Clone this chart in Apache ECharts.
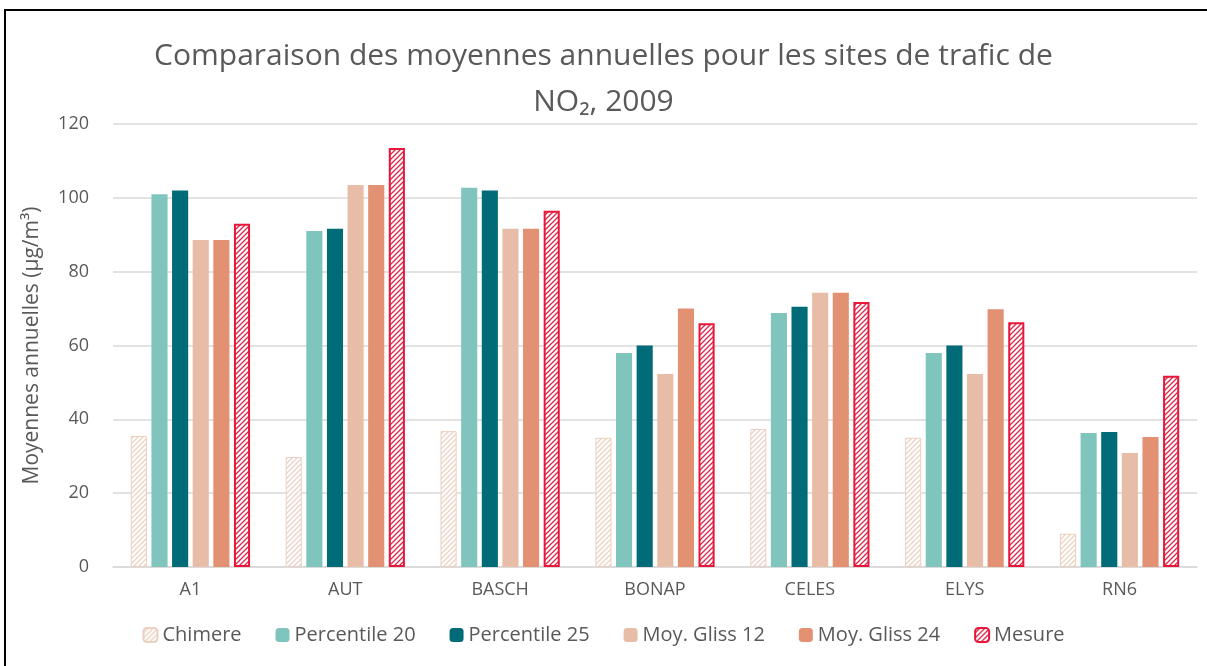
<!DOCTYPE html>
<html>
<head>
<meta charset="utf-8">
<script src="https://cdn.jsdelivr.net/npm/echarts@6/dist/echarts.min.js"></script>
<style>
  html, body { margin: 0; padding: 0; background: #fff; }
  #frame { position: absolute; left: 4px; top: 9px; width: 1210px; height: 670px; border: 2px solid #000; box-sizing: border-box; }
  #main { position: absolute; left: 0; top: 0; width: 1207px; height: 666px; }
</style>
</head>
<body>
<div id="frame"></div>
<div id="main"></div>
<script type="text/javascript">
// categories and values
var sites = ['A1', 'AUT', 'BASCH', 'BONAP', 'CELES', 'ELYS', 'RN6'];
var chimere      = [35.5, 29.8, 36.8, 35.0, 37.4, 35.0, 9.0];
var percentile20 = [101.0, 91.0, 102.7, 58.0, 68.8, 58.0, 36.3];
var percentile25 = [102.0, 91.6, 102.0, 60.0, 70.5, 60.0, 36.6];
var moyGliss12   = [88.6, 103.5, 91.6, 52.3, 74.3, 52.3, 30.9];
var moyGliss24   = [88.6, 103.5, 91.6, 70.0, 74.3, 69.8, 35.2];
var mesure       = [93.0, 113.5, 96.5, 66.0, 71.8, 66.3, 51.8];

// hachures diagonales
function stripes(fg, lw) {
  var c = document.createElement('canvas');
  c.width = 5; c.height = 5;
  var ctx = c.getContext('2d');
  ctx.fillStyle = '#fff';
  ctx.fillRect(0, 0, 5, 5);
  ctx.strokeStyle = fg;
  ctx.lineWidth = lw;
  ctx.beginPath();
  ctx.moveTo(0, 5); ctx.lineTo(5, 0);
  ctx.moveTo(-1, 1); ctx.lineTo(1, -1);
  ctx.moveTo(4, 6); ctx.lineTo(6, 4);
  ctx.stroke();
  return { image: c, repeat: 'repeat' };
}

var chart = echarts.init(document.getElementById('main'));
var txt = '#595959';
var font = 'Open Sans';

function bar(name, data, style) {
  return { name: name, type: 'bar', data: data, itemStyle: style,
           barGap: '28%', barCategoryGap: '23%' };
}

var option = {
  animation: false,
  textStyle: { fontFamily: font },
  title: {
    text: 'Comparaison des moyennes annuelles pour les sites de trafic de\nNO₂, 2009',
    left: 'center', top: 28,
    textStyle: { fontFamily: font, fontSize: 30, fontWeight: 'normal', color: txt, lineHeight: 46 }
  },
  legend: {
    bottom: 16, left: 'center',
    itemWidth: 14, itemHeight: 14, itemGap: 34,
    textStyle: { fontFamily: font, fontSize: 20, color: txt },
    data: ['Chimere', 'Percentile 20', 'Percentile 25', 'Moy. Gliss 12', 'Moy. Gliss 24', 'Mesure']
  },
  grid: { left: 113, right: 10, top: 124, bottom: 99 },
  xAxis: {
    type: 'category', data: sites,
    axisLine: { lineStyle: { color: '#D9D9D9', width: 1.5 } },
    axisTick: { show: false },
    axisLabel: { color: txt, fontSize: 18, margin: 14 }
  },
  yAxis: {
    type: 'value', min: 0, max: 120, interval: 20,
    name: 'Moyennes annuelles (µg/m³)',
    nameLocation: 'middle', nameGap: 70,
    nameTextStyle: { color: txt, fontSize: 21, fontFamily: font },
    axisLine: { show: false }, axisTick: { show: false },
    axisLabel: { color: txt, fontSize: 18, margin: 24 },
    splitLine: { lineStyle: { color: '#D9D9D9', width: 1.5 } }
  },
  series: [
    bar('Chimere', chimere, { color: stripes('#EDD3C3', 1.4), borderColor: '#EAD0C0', borderWidth: 1 }),
    bar('Percentile 20', percentile20, { color: '#7FC5BE' }),
    bar('Percentile 25', percentile25, { color: '#016B77' }),
    bar('Moy. Gliss 12', moyGliss12, { color: '#E8BDA8' }),
    bar('Moy. Gliss 24', moyGliss24, { color: '#E39173' }),
    bar('Mesure', mesure, { color: stripes('#D9264A', 1.3), borderColor: '#E8173A', borderWidth: 2 })
  ]
};

chart.setOption(option);
</script>
</body>
</html>
